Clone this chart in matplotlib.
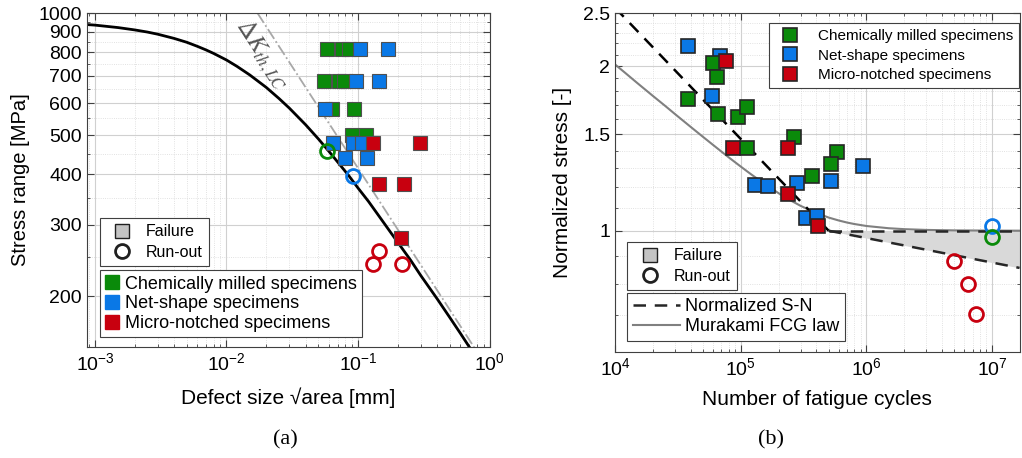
import numpy as np
import matplotlib
matplotlib.use('Agg')
import matplotlib.pyplot as plt
from matplotlib.lines import Line2D
from matplotlib.ticker import FixedLocator, NullFormatter, LogLocator

plt.rcParams['font.family'] = ['Liberation Sans', 'DejaVu Sans']
plt.rcParams['mathtext.fontset'] = 'custom'
plt.rcParams['mathtext.rm'] = 'Liberation Sans'
plt.rcParams['mathtext.it'] = 'Liberation Sans:italic'

# colours of the three specimen groups
GREEN = '#0a8a0a'
BLUE = '#0a78e6'
RED = '#c8000f'

# ---------------- (a) defect size [mm] vs stress range [MPa] ----------------
chem_fail_x = [0.058, 0.0757, 0.0855, 0.0552, 0.0718, 0.0783, 0.0636, 0.0933, 0.0901, 0.115]
chem_fail_y = [815, 815, 815, 680, 680, 680, 580, 580, 500, 500]
net_fail_x = [0.1035, 0.169, 0.0966, 0.144, 0.0562, 0.0647, 0.0916, 0.107, 0.0798, 0.117]
net_fail_y = [815, 815, 680, 680, 580, 479, 479, 479, 440, 440]
notch_fail_x = [0.130, 0.295, 0.144, 0.223, 0.212]
notch_fail_y = [479, 479, 379, 379, 279]
chem_run_x, chem_run_y = [0.058], [457]
net_run_x, net_run_y = [0.0916], [397]
notch_run_x = [0.144, 0.130, 0.215]
notch_run_y = [259, 241, 241]

# curve
curve_x = [0.00087, 0.001, 0.0015, 0.002, 0.0025, 0.003, 0.004, 0.005, 0.006, 0.007,
           0.008, 0.01, 0.012, 0.015, 0.02, 0.025, 0.03, 0.035, 0.04, 0.05, 0.06,
           0.07, 0.085, 0.1, 0.12, 0.15, 0.2, 0.25, 0.3, 0.4, 0.5, 0.6, 0.75]
curve_y = [937, 934, 921, 909, 898, 887, 866, 847, 828, 811,
           795, 766, 739, 704, 656, 616, 583, 554, 530, 489, 456,
           429, 397, 370, 343, 310, 272, 246, 225, 197, 177, 162, 145]
# long crack threshold line
kth_x = [0.0172, 0.78]
kth_y = [1000, 148]

# ---------------- (b) fatigue cycles vs normalized stress ----------------
chem_b_x = [59900, 64600, 37900, 65600, 94700, 111600, 111600, 264000, 578000, 518000, 372000]
chem_b_y = [2.024, 1.909, 1.740, 1.632, 1.612, 1.682, 1.414, 1.481, 1.390, 1.322, 1.261]
net_b_x = [37900, 68100, 58900, 946000, 518000, 129000, 164000, 278000, 328000, 401000]
net_b_y = [2.176, 2.086, 1.762, 1.311, 1.235, 1.214, 1.209, 1.225, 1.056, 1.065]
notch_b_x = [76000, 86500, 236000, 236000, 408000]
notch_b_y = [2.043, 1.414, 1.419, 1.169, 1.021]
chem_b_run_x, chem_b_run_y = [1e7], [0.975]
net_b_run_x, net_b_run_y = [1e7], [1.021]
notch_b_run_x = [4.99e6, 6.46e6, 7.47e6]
notch_b_run_y = [0.881, 0.799, 0.704]

sn_x = [1e4, 5e5]
sn_y = [2.557, 1.0]
sn_flat_x = [5e5, 1.65e7]
sn_flat_y = [1.0, 1.0]
sn_low_x = [5e5, 1.65e7]
sn_low_y = [1.0, 0.855]

fcg_x = [1e4, 1.2e4, 1.5e4, 2e4, 2.5e4, 3e4, 4e4, 5e4, 6e4, 7e4, 8e4, 1e5, 1.2e5, 1.5e5,
         2e5, 2.5e5, 3e5, 4e5, 5e5, 6e5, 7e5, 8e5, 1e6, 1.5e6, 2e6, 3e6, 5e6, 1e7, 1.65e7]
fcg_y = [2.014, 1.945, 1.863, 1.764, 1.692, 1.634, 1.548, 1.485, 1.436, 1.396, 1.3625,
         1.310, 1.2695, 1.224, 1.171, 1.1355, 1.110, 1.0772, 1.057, 1.0441, 1.035, 1.0286,
         1.020, 1.0105, 1.0065, 1.0033, 1.0014, 1.0004, 1.0001]


def style_axes(ax):
    ax.set_xscale('log')
    ax.set_yscale('log')
    ax.grid(True, which='major', color='#d0d0d0', lw=0.8)
    ax.grid(True, which='minor', color='#d8d8d8', lw=0.6, ls=':')
    ax.tick_params(which='both', direction='in', top=True, right=True, labelsize=14,
                   color='#404040')
    ax.tick_params(which='major', length=5)
    ax.tick_params(which='minor', length=2.5)
    for s in ax.spines.values():
        s.set_color('#404040')
        s.set_linewidth(0.8)
    ax.xaxis.set_minor_locator(LogLocator(base=10, subs=np.arange(2, 10)))
    ax.xaxis.set_minor_formatter(NullFormatter())
    ax.yaxis.set_minor_formatter(NullFormatter())
    ax.set_axisbelow(True)


fig = plt.figure(figsize=(10.22, 4.58), dpi=100)
ax1 = fig.add_axes([0.0851, 0.2424, 0.394, 0.729])
ax2 = fig.add_axes([0.6018, 0.2314, 0.3958, 0.740])

# ---------------- panel (a) ----------------
style_axes(ax1)
sq = dict(marker='s', ms=10, ls='none', mec='#505050', mew=0.8)
ax1.plot(kth_x, kth_y, color='#a8a8a8', ls='-.', lw=1.3)
ax1.plot(curve_x, curve_y, color='black', lw=2)
ax1.plot(chem_fail_x, chem_fail_y, mfc=GREEN, **sq)
ax1.plot(net_fail_x, net_fail_y, mfc=BLUE, **sq)
ax1.plot(notch_fail_x, notch_fail_y, mfc=RED, **sq)
ring = dict(marker='o', ms=10, ls='none', mfc='none', mew=2)
ax1.plot(chem_run_x, chem_run_y, mec=GREEN, **ring)
ax1.plot(net_run_x, net_run_y, mec=BLUE, **ring)
ax1.plot(notch_run_x, notch_run_y, mec=RED, **ring)
ax1.text(0.0185, 790, r'$\Delta K_{th,LC}$', math_fontfamily='stix', color='#555555',
         fontsize=18, rotation=-57, ha='center', va='center', rotation_mode='anchor')

ax1.set_xlim(8.7e-4, 1.0)
ax1.set_ylim(150, 1000)
ax1.yaxis.set_major_locator(FixedLocator([200, 300, 400, 500, 600, 700, 800, 900, 1000]))
ax1.set_yticklabels(['200', '300', '400', '500', '600', '700', '800', '900', '1000'])
ax1.yaxis.set_minor_locator(FixedLocator([150, 250, 350, 450, 550, 650, 750, 850, 950]))
ax1.set_ylabel('Stress range [MPa]', fontsize=14.5, labelpad=6)
ax1.set_xlabel('Defect size \u221aarea [mm]', fontsize=15, labelpad=10)

type_handles = [
    Line2D([], [], marker='s', ms=10, ls='none', mfc='#c4c4c4', mec='#202020', mew=1),
    Line2D([], [], marker='o', ms=10, ls='none', mfc='none', mec='#202020', mew=2),
]
leg_kw = dict(fancybox=False, framealpha=1, edgecolor='#404040', borderaxespad=0)
lt = ax1.legend(type_handles, ['Failure', 'Run-out'], loc='upper left',
                bbox_to_anchor=(0.032, 0.386), fontsize=11.5, handletextpad=0.5,
                labelspacing=0.35, **leg_kw)
lt.get_frame().set_linewidth(0.8)
ax1.add_artist(lt)
group_handles_a = [Line2D([], [], marker='s', ms=10, ls='none', mfc=c, mec=c)
                   for c in (GREEN, BLUE, RED)]
lg = ax1.legend(group_handles_a, ['Chemically milled specimens', 'Net-shape specimens',
                                  'Micro-notched specimens'],
                loc='upper left', bbox_to_anchor=(0.032, 0.23), fontsize=13,
                handlelength=0.8, handletextpad=0.3, labelspacing=0.15,
                borderpad=0.3, **leg_kw)
lg.get_frame().set_linewidth(0.8)

# ---------------- panel (b) ----------------
style_axes(ax2)
sqb = dict(marker='s', ms=10, ls='none', mec='#262626', mew=1.2)
ax2.fill_between(sn_low_x, sn_low_y, sn_flat_y, color='#d9d9d9', lw=0)
ax2.plot(fcg_x, fcg_y, color='#808080', lw=1.5)
ax2.plot(sn_x, sn_y, color='black', ls=(0, (5, 3.5)), lw=1.8)
ax2.plot(sn_flat_x, sn_flat_y, color='#262626', ls=(0, (5, 3.5)), lw=1.8)
ax2.plot(sn_low_x, sn_low_y, color='#262626', ls=(0, (5, 3.5)), lw=1.8)
ax2.plot(net_b_x, net_b_y, mfc=BLUE, **sqb)
ax2.plot(chem_b_x, chem_b_y, mfc=GREEN, **sqb)
ax2.plot(notch_b_x, notch_b_y, mfc=RED, **sqb)
ax2.plot(net_b_run_x, net_b_run_y, mec=BLUE, **ring)
ax2.plot(chem_b_run_x, chem_b_run_y, mec=GREEN, **ring)
ax2.plot(notch_b_run_x, notch_b_run_y, mec=RED, **ring)

ax2.set_xlim(1e4, 1.65e7)
ax2.set_ylim(0.6, 2.5)
ax2.xaxis.set_major_locator(FixedLocator([1e4, 1e5, 1e6, 1e7]))
ax2.set_xticklabels([r'$10^{4}$', r'$10^{5}$', r'$10^{6}$', r'$10^{7}$'])
ax2.yaxis.set_major_locator(FixedLocator([1, 1.5, 2, 2.5]))
ax2.set_yticklabels(['1', '1.5', '2', '2.5'])
ax2.yaxis.set_minor_locator(FixedLocator([0.6, 0.7, 0.8, 0.9, 1.1, 1.2, 1.3, 1.4, 1.6,
                                          1.7, 1.8, 1.9, 2.1, 2.2, 2.3, 2.4]))
ax2.set_ylabel('Normalized stress [-]', fontsize=15, labelpad=8)
ax2.set_xlabel('Number of fatigue cycles', fontsize=15, labelpad=8)

group_handles_b = [Line2D([], [], marker='s', ms=10, ls='none', mfc=c, mec='#262626', mew=1.2)
                   for c in (GREEN, BLUE, RED)]
lb = ax2.legend(group_handles_b, ['Chemically milled specimens', 'Net-shape specimens',
                                  'Micro-notched specimens'],
                loc='upper left', bbox_to_anchor=(0.38, 0.97), fontsize=11,
                handletextpad=0.8, labelspacing=0.35, **leg_kw)
lb.get_frame().set_linewidth(0.8)
ax2.add_artist(lb)
lt2 = ax2.legend(type_handles, ['Failure', 'Run-out'], loc='upper left',
                 bbox_to_anchor=(0.03, 0.325), fontsize=11.5, handletextpad=0.5,
                 labelspacing=0.35, **leg_kw)
lt2.get_frame().set_linewidth(0.8)
ax2.add_artist(lt2)
line_handles = [Line2D([], [], color='#262626', ls=(0, (5, 3.5)), lw=1.8),
                Line2D([], [], color='#808080', lw=1.5)]
ll = ax2.legend(line_handles, ['Normalized S-N', 'Murakami FCG law'], loc='upper left',
                bbox_to_anchor=(0.03, 0.174), fontsize=13, handlelength=2.6,
                handletextpad=0.3, labelspacing=0.15, borderpad=0.3, **leg_kw)
ll.get_frame().set_linewidth(0.8)

# panel captions
fig.text(0.279, 0.03, '(a)', fontsize=16, family='Liberation Serif', ha='center')
fig.text(0.754, 0.03, '(b)', fontsize=16, family='Liberation Serif', ha='center')

fig.savefig('out.png', dpi=100)
